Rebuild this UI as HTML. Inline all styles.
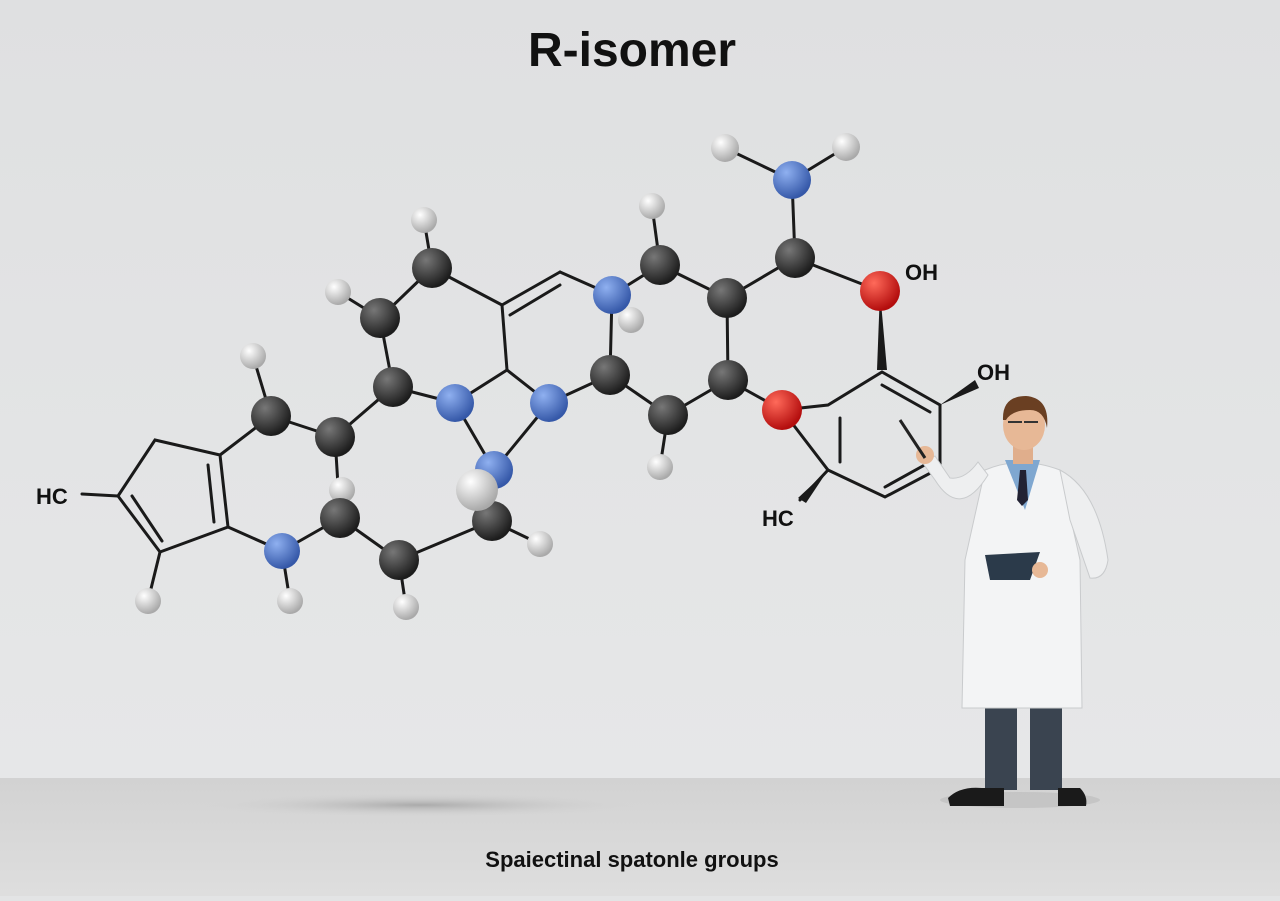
<!DOCTYPE html>
<html><head><meta charset="utf-8"><style>
html,body{margin:0;padding:0}
body{width:1280px;height:896px;overflow:hidden;background:#e3e4e5;font-family:"Liberation Sans",sans-serif}
</style></head><body>
<svg width="1280" height="896" viewBox="0 0 1280 896" xmlns="http://www.w3.org/2000/svg">
<defs>
<linearGradient id="bg" x1="0" y1="0" x2="0" y2="1"><stop offset="0" stop-color="#dfe0e1"/><stop offset="1" stop-color="#e6e7e8"/></linearGradient>
<linearGradient id="fl" x1="0" y1="0" x2="0" y2="1"><stop offset="0" stop-color="#d2d2d2"/><stop offset="1" stop-color="#dedede"/></linearGradient>
<radialGradient id="c" cx="0.35" cy="0.3" r="0.7"><stop offset="0" stop-color="#777"/><stop offset="1" stop-color="#1c1c1c"/></radialGradient>
<radialGradient id="n" cx="0.35" cy="0.3" r="0.7"><stop offset="0" stop-color="#8fb0f0"/><stop offset="1" stop-color="#3558a8"/></radialGradient>
<radialGradient id="o" cx="0.35" cy="0.3" r="0.7"><stop offset="0" stop-color="#ff6a5a"/><stop offset="1" stop-color="#b30d0d"/></radialGradient>
<radialGradient id="h" cx="0.35" cy="0.3" r="0.7"><stop offset="0" stop-color="#ffffff"/><stop offset="1" stop-color="#a9a9a9"/></radialGradient>
<radialGradient id="sh" cx="0.5" cy="0.5" r="0.5"><stop offset="0" stop-color="#aaa"/><stop offset="1" stop-color="#d4d4d4" stop-opacity="0"/></radialGradient>
</defs>
<rect width="1280" height="778" fill="url(#bg)"/>
<rect y="778" width="1280" height="118" fill="url(#fl)"/>
<ellipse cx="420" cy="805" rx="220" ry="12" fill="url(#sh)"/>
<text x="632" y="66" font-size="48" font-weight="bold" text-anchor="middle" fill="#111">R-isomer</text>
<text x="632" y="867" font-size="22" font-weight="bold" text-anchor="middle" fill="#111">Spaiectinal spatonle groups</text>
<g stroke="#1a1a1a" stroke-width="3" fill="none" stroke-linecap="round">
<path d="M118,496 L155,440 L220,455 L228,527 L160,552 Z"/>
<path d="M132,496 L162,541 M208,465 L214,522"/>
<line x1="82" y1="494" x2="118" y2="496"/>
<line x1="160" y1="552" x2="148" y2="601"/>
<line x1="220" y1="455" x2="271" y2="416"/>
<line x1="228" y1="527" x2="282" y2="551"/>
<line x1="271" y1="416" x2="253" y2="356"/>
<line x1="271" y1="416" x2="335" y2="437"/>
<line x1="335" y1="437" x2="393" y2="387"/>
<line x1="335" y1="437" x2="340" y2="518"/>
<line x1="340" y1="518" x2="282" y2="551"/>
<line x1="282" y1="551" x2="290" y2="601"/>
<line x1="340" y1="518" x2="399" y2="560"/>
<line x1="399" y1="560" x2="406" y2="607"/>
<line x1="399" y1="560" x2="492" y2="521"/>
<line x1="492" y1="521" x2="540" y2="544"/>
<line x1="393" y1="387" x2="380" y2="318"/>
<line x1="380" y1="318" x2="432" y2="268"/>
<line x1="380" y1="318" x2="338" y2="292"/>
<line x1="432" y1="268" x2="424" y2="220"/>
<line x1="432" y1="268" x2="502" y2="305"/>
<line x1="393" y1="387" x2="455" y2="403"/>
<line x1="455" y1="403" x2="507" y2="370"/>
<line x1="507" y1="370" x2="549" y2="403"/>
<line x1="502" y1="305" x2="507" y2="370"/>
<line x1="502" y1="305" x2="560" y2="272"/>
<line x1="510" y1="315" x2="560" y2="285"/>
<line x1="560" y1="272" x2="612" y2="295"/>
<line x1="455" y1="403" x2="494" y2="470"/>
<line x1="549" y1="403" x2="494" y2="470"/>
<line x1="549" y1="403" x2="610" y2="375"/>
<line x1="612" y1="295" x2="610" y2="375"/>
<line x1="612" y1="295" x2="660" y2="265"/>
<line x1="660" y1="265" x2="652" y2="206"/>
<line x1="660" y1="265" x2="727" y2="298"/>
<line x1="727" y1="298" x2="728" y2="380"/>
<line x1="727" y1="298" x2="795" y2="258"/>
<line x1="728" y1="380" x2="668" y2="415"/>
<line x1="610" y1="375" x2="668" y2="415"/>
<line x1="668" y1="415" x2="660" y2="467"/>
<line x1="728" y1="380" x2="782" y2="410"/>
<line x1="795" y1="258" x2="792" y2="180"/>
<line x1="795" y1="258" x2="880" y2="291"/>
<line x1="792" y1="180" x2="725" y2="148"/>
<line x1="792" y1="180" x2="846" y2="147"/>
<path d="M782,410 L828,405 L882,372 L940,405 L940,468 L885,497 L828,470 Z"/>
<path d="M840,418 L840,462 M882,385 L930,412 M885,487 L930,462"/>
<line x1="828" y1="470" x2="800" y2="500"/>
</g>
<polygon points="880,291 877,370 887,370" fill="#1a1a1a"/>
<polygon points="940,405 975,380 979,388" fill="#1a1a1a"/>
<polygon points="828,470 798,498 806,503" fill="#1a1a1a"/>
<text x="905" y="280" font-size="22" font-weight="bold" fill="#111">OH</text>
<text x="977" y="380" font-size="22" font-weight="bold" fill="#111">OH</text>
<text x="36" y="504" font-size="22" font-weight="bold" fill="#111">HC</text>
<text x="762" y="526" font-size="22" font-weight="bold" fill="#111">HC</text>
<g>
<circle cx="424" cy="220" r="13" fill="url(#h)"/><circle cx="338" cy="292" r="13" fill="url(#h)"/><circle cx="253" cy="356" r="13" fill="url(#h)"/>
<circle cx="148" cy="601" r="13" fill="url(#h)"/><circle cx="290" cy="601" r="13" fill="url(#h)"/><circle cx="406" cy="607" r="13" fill="url(#h)"/>
<circle cx="540" cy="544" r="13" fill="url(#h)"/><circle cx="652" cy="206" r="13" fill="url(#h)"/><circle cx="660" cy="467" r="13" fill="url(#h)"/>
<circle cx="725" cy="148" r="14" fill="url(#h)"/><circle cx="846" cy="147" r="14" fill="url(#h)"/><circle cx="631" cy="320" r="13" fill="url(#h)"/>
<circle cx="342" cy="490" r="13" fill="url(#h)"/>
<circle cx="432" cy="268" r="20" fill="url(#c)"/><circle cx="380" cy="318" r="20" fill="url(#c)"/><circle cx="393" cy="387" r="20" fill="url(#c)"/>
<circle cx="271" cy="416" r="20" fill="url(#c)"/><circle cx="335" cy="437" r="20" fill="url(#c)"/><circle cx="340" cy="518" r="20" fill="url(#c)"/>
<circle cx="399" cy="560" r="20" fill="url(#c)"/><circle cx="492" cy="521" r="20" fill="url(#c)"/><circle cx="660" cy="265" r="20" fill="url(#c)"/>
<circle cx="727" cy="298" r="20" fill="url(#c)"/><circle cx="728" cy="380" r="20" fill="url(#c)"/><circle cx="668" cy="415" r="20" fill="url(#c)"/>
<circle cx="610" cy="375" r="20" fill="url(#c)"/><circle cx="795" cy="258" r="20" fill="url(#c)"/>
<circle cx="455" cy="403" r="19" fill="url(#n)"/><circle cx="549" cy="403" r="19" fill="url(#n)"/><circle cx="494" cy="470" r="19" fill="url(#n)"/>
<circle cx="612" cy="295" r="19" fill="url(#n)"/><circle cx="282" cy="551" r="18" fill="url(#n)"/><circle cx="792" cy="180" r="19" fill="url(#n)"/>
<circle cx="477" cy="490" r="21" fill="url(#h)"/>
<circle cx="880" cy="291" r="20" fill="url(#o)"/><circle cx="782" cy="410" r="20" fill="url(#o)"/>
</g>
<g>
<ellipse cx="1020" cy="800" rx="80" ry="8" fill="#bbb" opacity="0.6"/>
<rect x="985" y="690" width="32" height="100" fill="#3a4450"/>
<rect x="1030" y="690" width="32" height="100" fill="#3a4450"/>
<path d="M948,798 Q960,786 982,788 L1004,788 L1004,806 L950,806 Z" fill="#1a1a1a"/>
<path d="M1058,788 L1080,788 Q1088,796 1086,806 L1058,806 Z" fill="#1a1a1a"/>
<path d="M985,470 Q1020,455 1060,470 L1080,560 L1082,708 L962,708 L965,560 Z" fill="#f3f4f5" stroke="#c9cbcd"/>
<path d="M1060,470 Q1098,490 1108,560 Q1105,580 1090,578 L1070,520 Z" fill="#eeeff0" stroke="#c9cbcd"/>
<path d="M988,475 Q960,520 935,480 L922,462 L935,456 L950,478 Q965,480 978,462 Z" fill="#eeeff0" stroke="#c9cbcd"/>
<path d="M1005,460 L1040,460 L1025,510 Z" fill="#7fa7d0"/>
<path d="M1020,470 L1026,470 L1028,500 L1022,506 L1017,500 Z" fill="#223"/>
<rect x="1013" y="440" width="20" height="24" fill="#e0ae8c"/>
<ellipse cx="1024" cy="425" rx="21" ry="25" fill="#e7b896"/>
<path d="M1003,420 Q1002,396 1026,396 Q1050,398 1047,428 Q1044,410 1030,410 Q1012,410 1006,420 Z" fill="#6a3f22"/>
<path d="M1008,422 h14 M1024,422 h14" stroke="#333" stroke-width="2"/>
<path d="M985,555 L1040,552 L1030,580 L990,580 Z" fill="#2b3a4a"/>
<circle cx="1040" cy="570" r="8" fill="#e7b896"/>
<circle cx="925" cy="455" r="9" fill="#e7b896"/>
<line x1="900" y1="420" x2="925" y2="458" stroke="#222" stroke-width="3"/>
</g>
</svg>
</body></html>
